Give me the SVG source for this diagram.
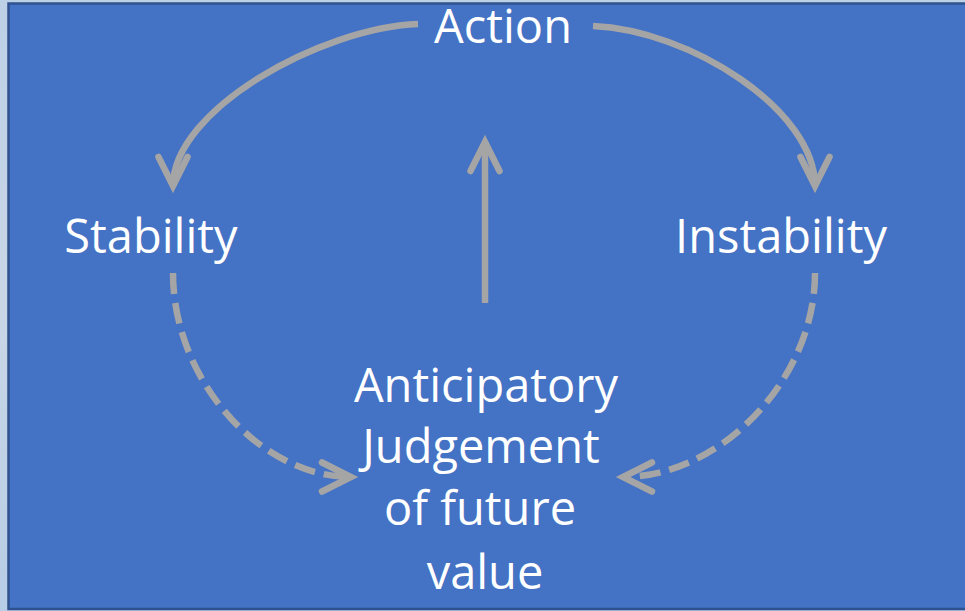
<svg xmlns="http://www.w3.org/2000/svg" width="965" height="611" viewBox="0 0 965 611">
  <style>
    .lbl { font-family: "Open Sans", "Noto Sans", "Liberation Sans", sans-serif; font-size: 47px; fill: #FFFFFF; text-anchor: middle; }
    .conn { fill: none; stroke: #A5A5A5; stroke-width: 6.5; }
    .dash { stroke-dasharray: 21 9; }
    .head { fill: none; stroke: #A5A5A5; stroke-width: 6.5; stroke-linejoin: miter; stroke-linecap: round; stroke-dasharray: none; }
  </style>
  <defs>
    <linearGradient id="edge" x1="0" y1="0" x2="0" y2="1">
      <stop offset="0" stop-color="#BCD0E6"/>
      <stop offset="0.5" stop-color="#C9D6E6"/>
      <stop offset="1" stop-color="#B7CDE6"/>
    </linearGradient>
    <marker id="arrow" markerUnits="userSpaceOnUse" markerWidth="50" markerHeight="50" viewBox="-40 -25 50 50" refX="0" refY="0" orient="auto" overflow="visible">
      <path class="head" d="M-29,-14.5 L0,0 L-29,14.5"/>
    </marker>
  </defs>

  <!-- page surround and slide panel -->
  <rect x="0" y="0" width="965" height="611" fill="url(#edge)"/>
  <rect x="8.5" y="3.5" width="960" height="605.5" fill="#4472C4" stroke="#2F528F" stroke-width="2.5"/>

  <!-- connectors -->
  <g id="connectors">
    <path class="conn" d="M418,24 C320,28 173,110 173,186" marker-end="url(#arrow)"/>
    <path class="conn" d="M593,26 C690,30 815,110 815,186" marker-end="url(#arrow)"/>
    <path class="conn" d="M485,303 L485,142" marker-end="url(#arrow)"/>
    <path class="conn dash" d="M173,273 C173,380 260,477 351,477" marker-end="url(#arrow)"/>
    <path class="conn dash" d="M815,273 C815,380 720,477 623,477" marker-end="url(#arrow)"/>
  </g>

  <!-- nodes -->
  <g id="action">
    <text class="lbl" x="503" y="43">Action</text>
  </g>
  <g id="stability">
    <text class="lbl" x="151" y="253">Stability</text>
  </g>
  <g id="instability">
    <text class="lbl" x="781" y="253">Instability</text>
  </g>
  <g id="judgement">
    <text class="lbl" x="486" y="402">Anticipatory</text>
    <text class="lbl" x="481" y="463">Judgement</text>
    <text class="lbl" x="480" y="525">of future</text>
    <text class="lbl" x="485" y="589">value</text>
  </g>
</svg>
